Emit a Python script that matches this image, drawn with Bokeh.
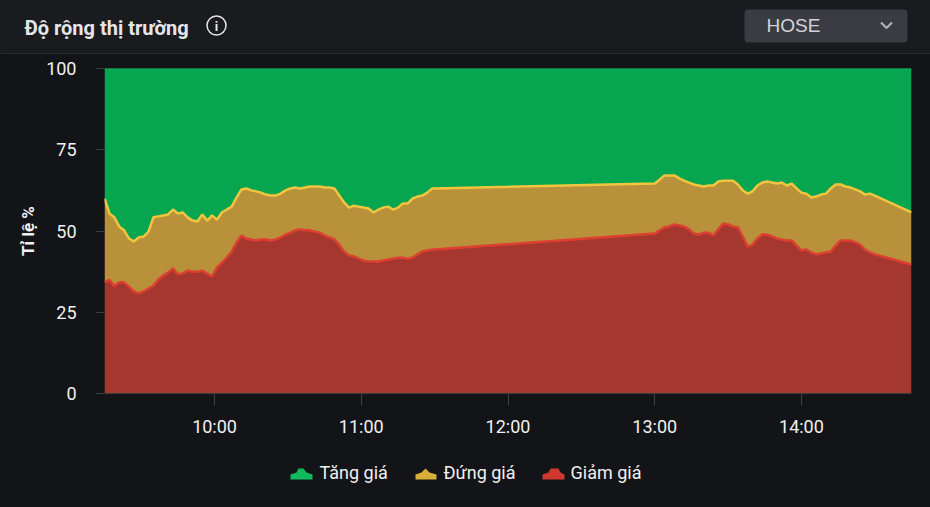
from bokeh.plotting import figure
from bokeh.layouts import column, row
from bokeh.models import Range1d, FixedTicker
from bokeh.core.properties import value
from bokeh.embed import file_html
from bokeh.resources import INLINE

title_text = "Độ rộng thị trường"
market = "HOSE"
y_title = "Tỉ lệ %"
legend_names = ["Tăng giá", "Đứng giá", "Giảm giá"]
y_ticks = [0, 25, 50, 75, 100]
x_tick_labels = ["10:00", "11:00", "12:00", "13:00", "14:00"]

times = [
    "9:15","9:17","9:19","9:21","9:23","9:25","9:27","9:29","9:31","9:33","9:35","9:37",
    "9:39","9:41","9:43","9:45","9:47","9:49","9:51","9:53","9:55","9:57","9:59","10:01",
    "10:03","10:05","10:07","10:09","10:11","10:13","10:15","10:17","10:19","10:21","10:23","10:25",
    "10:27","10:29","10:31","10:33","10:35","10:37","10:39","10:41","10:43","10:45","10:47","10:49",
    "10:51","10:53","10:55","10:57","10:59","11:01","11:03","11:05","11:07","11:09","11:11","11:13",
    "11:15","11:17","11:19","11:21","11:23","11:25","11:27","11:29","11:30",
    "13:00","13:02","13:04","13:06","13:08","13:10","13:12","13:14","13:16","13:18","13:20","13:22",
    "13:24","13:26","13:28","13:30","13:32","13:34","13:36","13:38","13:40","13:42","13:44","13:46",
    "13:48","13:50","13:52","13:54","13:56","13:58","14:00","14:02","14:04","14:06","14:08","14:10",
    "14:12","14:14","14:16","14:18","14:20","14:22","14:24","14:26","14:28","14:30","14:45",
]

# upper edge of the red band (Giảm giá), in %
giam_gia = [
    34.2,35.0,33.0,34.2,34.2,32.9,31.4,30.8,31.4,32.3,33.2,35.1,
    36.3,37.2,38.5,36.6,36.9,37.8,37.5,37.5,37.8,36.9,36.0,38.8,
    40.3,41.8,43.7,46.5,48.6,47.7,47.4,47.1,47.4,47.4,47.1,47.4,
    48.0,48.9,49.5,50.2,50.5,50.2,50.2,49.8,49.5,48.6,48.0,47.4,
    45.8,43.7,42.5,42.2,41.5,40.9,40.6,40.6,40.6,40.9,41.2,41.5,
    41.8,41.8,41.5,41.8,42.8,43.7,44.0,44.3,44.3,
    49.2,50.2,51.1,51.4,52.0,51.7,51.4,50.5,49.2,48.9,49.5,49.5,
    48.6,50.5,52.3,52.0,51.4,51.1,48.3,45.2,45.8,47.7,48.9,48.9,
    48.3,47.7,47.4,47.1,47.1,45.5,44.0,44.3,43.4,42.8,43.1,43.4,
    43.7,45.5,47.1,47.1,47.1,46.5,45.8,44.3,43.4,42.8,39.7,
]

# upper edge of the yellow band (Giảm giá + Đứng giá), in %
dung_gia_tren = [
    60.0,55.4,54.2,51.4,50.2,47.7,46.8,48.0,48.3,49.8,54.2,54.5,
    54.8,55.1,56.6,55.4,55.7,54.2,53.2,52.9,55.1,53.2,54.8,53.5,
    55.7,56.6,57.5,60.3,62.8,63.1,62.5,62.2,61.8,61.2,60.9,60.9,
    61.5,62.5,63.1,63.4,63.1,63.4,63.7,63.7,63.7,63.4,63.4,63.1,
    60.9,58.8,57.2,57.8,57.5,57.2,56.9,55.7,56.6,57.2,57.5,56.6,
    57.2,58.5,58.5,60.0,60.6,60.9,61.8,63.1,63.1,
    64.6,65.8,67.1,67.1,67.1,66.2,65.5,64.9,64.3,64.0,63.7,64.0,
    64.0,65.2,65.5,65.5,65.5,64.3,62.5,61.5,62.2,64.0,64.9,65.2,
    64.9,64.6,64.9,64.0,64.6,63.1,61.8,61.5,60.3,60.6,61.2,61.5,
    63.1,64.3,64.3,63.7,63.4,62.8,62.2,61.2,61.5,60.9,55.7,
]

top_edge = [100 for _ in times]
bottom_edge = [0 for _ in times]

BG = "#131417"
HEADER = "#1a1b1f"
RULE = "#3b3c40"
AXIS = "#3d3f44"
TEXT = "#f0f0f0"
GREEN, GREEN_LINE = "#06a650", "#12b25c"
YELLOW, YELLOW_LINE = "#b8913a", "#f2c53f"
RED, RED_LINE = "#a5372e", "#dd3f30"


def minutes(label):
    h, m = label.split(":")
    return int(h) * 60 + int(m)


x = [minutes(t) for t in times]

# main chart: page rows 54..440
p = figure(
    width=930, height=386, output_backend="svg", toolbar_location=None,
    x_range=Range1d(minutes("9:15"), minutes("14:45")), y_range=Range1d(0, 100),
    min_border_left=104, min_border_right=19, min_border_top=14, min_border_bottom=47,
    background_fill_color=None, border_fill_color=None, outline_line_color=None,
    styles={"background-color": BG},
)
p.grid.visible = False

p.varea(x=x, y1=dung_gia_tren, y2=top_edge, fill_color=GREEN)
p.varea(x=x, y1=giam_gia, y2=dung_gia_tren, fill_color=YELLOW)
p.varea(x=x, y1=bottom_edge, y2=giam_gia, fill_color=RED)
p.line(x, top_edge, line_color=GREEN_LINE, line_width=2)
p.line(x, dung_gia_tren, line_color=YELLOW_LINE, line_width=2.5)
p.line(x, giam_gia, line_color=RED_LINE, line_width=2.5)

xa, ya = p.xaxis[0], p.yaxis[0]
xa.ticker = FixedTicker(ticks=[minutes(t) for t in x_tick_labels])
xa.major_label_overrides = {minutes(t): t for t in x_tick_labels}
ya.ticker = FixedTicker(ticks=y_ticks)
for a in (xa, ya):
    a.axis_line_color = AXIS
    a.major_tick_line_color = AXIS
    a.major_tick_out = 8
    a.major_tick_in = 0
    a.minor_tick_line_color = None
    a.major_label_text_color = TEXT
    a.major_label_text_font = "Roboto"
    a.major_label_text_font_size = "18px"
ya.axis_line_color = None
xa.major_tick_out = 12
xa.major_label_standoff = 10
ya.major_label_standoff = 20
ya.axis_label = y_title
ya.axis_label_text_color = TEXT
ya.axis_label_text_font = "Roboto"
ya.axis_label_text_font_size = "17px"
ya.axis_label_text_font_style = "bold"
ya.axis_label_standoff = 5


def strip(height, y0, y1, bg):
    f = figure(
        width=930, height=height, output_backend="svg", toolbar_location=None,
        x_range=Range1d(0, 930), y_range=Range1d(y1, y0),
        min_border=0, background_fill_color=None, border_fill_color=None, outline_line_color=None,
        x_axis_location=None, y_axis_location=None, styles={"background-color": bg},
    )
    f.grid.visible = False
    return f


def text(f, s, px, py, size, color=TEXT, font="Roboto", style="normal", align="left"):
    f.text([px], [py], text=[s], text_color=color, text_font=value(font), text_font_size=size,
           text_font_style=style, text_align=align, text_baseline="middle")


# header strip: page rows 0..54; strip coordinates are page pixels
h = strip(54, 0, 54, HEADER)
h.line([0, 930], [53.5, 53.5], line_color=RULE, line_width=1)
text(h, title_text, 24, 27, "20px", color="#e4e6ea", style="bold")
h.scatter([216], [25], size=19, marker="circle", fill_color=None, line_color="#e4e6ea", line_width=1.5)
text(h, "i", 216, 25.5, "13px", color="#e4e6ea", align="center", style="bold")
h.quad(left=[744], right=[907], top=[9], bottom=[42], fill_color="#3b3c43", line_color=None, border_radius=4)
text(h, market, 766, 25, "19px", color="#d4d4d8", font="Liberation Sans")
h.line([880.5, 886, 891.5], [22, 27.5, 22], line_color="#b4b4ba", line_width=2)

# legend strip: page rows 440..507
g = strip(67, 440, 507, BG)
mark_colors = ["#10b95c", "#d9ae3a", "#d0382f"]
g.patch([290, 296, 298, 303, 306, 312, 312, 290], [474, 472, 468, 468, 472, 474, 479, 479], fill_color=mark_colors[0], line_color=None)
g.patch([415, 421, 425, 429, 436, 436, 415], [474, 472, 468, 472, 474, 479, 479], fill_color=mark_colors[1], line_color=None)
g.patch([542, 548, 550, 558, 560, 564, 564, 542], [474, 472, 468, 468, 472, 474, 479, 479], fill_color=mark_colors[2], line_color=None)
for name, px in zip(legend_names, [319, 443, 570]):
    text(g, name, px, 472, "18px")

page = column(row(h), row(p), row(g), spacing=0)
open("out.html", "w").write(file_html(page, INLINE))
